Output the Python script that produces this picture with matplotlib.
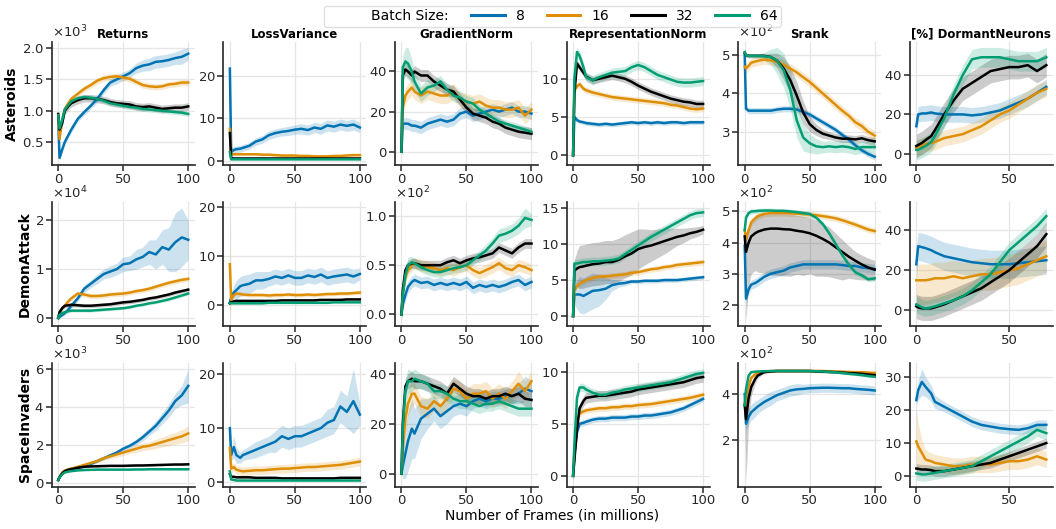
import numpy as np
import matplotlib
matplotlib.use("Agg")
import matplotlib.pyplot as plt
from matplotlib.lines import Line2D


# ================================================================
# DATA (display units)
# ================================================================

X = [0, 1, 3, 5, 8, 10, 15, 20, 25, 30, 35, 40, 45, 50, 55, 60, 65, 70, 75, 80, 85, 90, 95, 100]
XD = [0, 1, 3, 5, 8, 10, 15, 20, 25, 30, 35, 40, 45, 50, 55, 60, 65, 70]

GAMES = ["Asteroids", "DemonAttack", "SpaceInvaders"]
METRICS = ["Returns", "LossVariance", "GradientNorm", "RepresentationNorm", "Srank", "[%] DormantNeurons"]
BATCH_SIZES = [8, 16, 32, 64]
COLORS = {8: "#0173b2", 16: "#de8f05", 32: "black", 64: "#029e73"}

# scale factor between display units and raw values (game, metric)
SCALE = {
    ("Asteroids", "Returns"): 1e3,
    ("DemonAttack", "Returns"): 1e4,
    ("SpaceInvaders", "Returns"): 1e3,
    ("DemonAttack", "GradientNorm"): 1e2,
    ("Asteroids", "Srank"): 1e2,
    ("DemonAttack", "Srank"): 1e2,
    ("SpaceInvaders", "Srank"): 1e2,
}

# y tick labels shown in each panel (display units)
YTICKS = {
    "Asteroids": [[0.5, 1.0, 1.5, 2.0], [0, 10, 20], [0, 20, 40], [0, 5, 10], [3, 4, 5], [0, 20, 40]],
    "DemonAttack": [[0, 1, 2], [0, 10, 20], [0.0, 0.5, 1.0], [0, 5, 10, 15], [2, 3, 4, 5], [0, 20, 40]],
    "SpaceInvaders": [[0, 2, 4, 6], [0, 10, 20], [0, 20, 40], [0, 5, 10], [2, 4], [0, 10, 20, 30]],
}

# ---------------- Asteroids ----------------
ast_returns = {
    8: [0.85, 0.25, 0.38, 0.5, 0.62, 0.7, 0.87, 0.98, 1.08, 1.19, 1.33, 1.45, 1.5, 1.55, 1.6, 1.68, 1.72, 1.74, 1.78, 1.79, 1.81, 1.84, 1.86, 1.91],
    16: [0.9, 0.55, 0.85, 1.03, 1.13, 1.19, 1.27, 1.35, 1.41, 1.48, 1.52, 1.54, 1.55, 1.53, 1.51, 1.46, 1.41, 1.39, 1.38, 1.39, 1.42, 1.43, 1.45, 1.45],
    32: [0.95, 0.7, 0.8, 1.0, 1.08, 1.12, 1.17, 1.2, 1.2, 1.19, 1.17, 1.14, 1.12, 1.11, 1.1, 1.07, 1.06, 1.07, 1.05, 1.03, 1.04, 1.05, 1.05, 1.07],
    64: [0.93, 0.72, 0.85, 1.02, 1.1, 1.15, 1.2, 1.22, 1.21, 1.19, 1.16, 1.12, 1.1, 1.08, 1.06, 1.05, 1.03, 1.02, 1.01, 1.0, 0.99, 0.98, 0.97, 0.95],
}
ast_returns_band = {
    8: [0.03, 0.03, 0.04, 0.04, 0.04, 0.05, 0.05, 0.05, 0.05, 0.06, 0.06, 0.06, 0.07, 0.07, 0.07, 0.08, 0.09, 0.1, 0.1, 0.1, 0.1, 0.1, 0.12, 0.1],
    16: 0.05, 32: 0.06, 64: 0.04,
}

ast_lossvar = {
    8: [21.7, 2.0, 2.5, 2.7, 2.8, 3.0, 3.5, 4.5, 5.0, 6.0, 6.5, 6.8, 7.0, 7.3, 7.5, 7.2, 7.8, 7.5, 8.3, 8.0, 8.5, 8.2, 8.5, 7.8],
    16: [7.5, 1.5, 1.5, 1.5, 1.5, 1.5, 1.5, 1.5, 1.4, 1.4, 1.3, 1.2, 1.2, 1.2, 1.1, 1.1, 1.0, 1.0, 1.0, 1.1, 1.1, 1.2, 1.3, 1.3],
    32: [6.5, 0.6, 0.5, 0.5, 0.5, 0.5, 0.5, 0.5, 0.5, 0.5, 0.5, 0.5, 0.5, 0.5, 0.5, 0.5, 0.5, 0.5, 0.5, 0.5, 0.5, 0.5, 0.5, 0.5],
    64: [2.0, 0.3, 0.3, 0.3, 0.3, 0.3, 0.3, 0.3, 0.3, 0.3, 0.3, 0.3, 0.3, 0.3, 0.3, 0.3, 0.3, 0.3, 0.3, 0.3, 0.3, 0.3, 0.3, 0.3],
}
ast_lossvar_band = {
    8: [5.0, 1.0, 0.8, 0.8, 0.8, 0.8, 0.8, 0.9, 0.9, 1.0, 1.0, 1.0, 1.1, 1.1, 1.2, 1.2, 1.2, 1.3, 1.3, 1.3, 1.3, 1.3, 1.3, 1.2],
    16: 0.3, 32: 0.1, 64: 0.1,
}

ast_gradnorm = {
    8: [0, 14, 14, 14, 13, 13, 12, 14, 15, 16, 15, 16, 19, 20, 18, 19, 20, 21, 20, 21, 22, 20, 20, 19],
    16: [0, 22, 28, 30, 32, 30, 28, 30, 29, 28, 28, 30, 26, 25, 24, 25, 23, 22, 22, 21, 21, 22, 18, 21],
    32: [0, 38, 41, 40, 38, 40, 38, 38, 35, 33, 31, 30, 26, 22, 19, 18, 17, 15, 14, 12, 11, 10, 9.5, 9],
    64: [0, 42, 45, 44, 40, 35, 29, 32, 33, 35, 31, 28, 27, 25, 24, 21, 19, 17, 15, 14, 13, 12, 11, 10],
}
ast_gradnorm_band = {
    8: 3.0, 16: 4.0, 32: 3.0,
    64: [0, 6, 7, 8, 6, 5, 4, 4, 3, 3, 3, 3, 3, 3, 3, 2, 2, 2, 2, 2, 2, 2, 2, 2],
}

ast_repnorm = {
    8: [0, 5.0, 4.6, 4.4, 4.3, 4.2, 4.1, 4.0, 4.1, 4.0, 4.1, 4.2, 4.3, 4.2, 4.3, 4.2, 4.3, 4.2, 4.3, 4.3, 4.2, 4.3, 4.3, 4.3],
    16: [0, 8.5, 9.0, 9.3, 8.7, 8.5, 8.2, 8.0, 7.8, 7.6, 7.5, 7.4, 7.3, 7.2, 7.1, 7.0, 6.9, 6.8, 6.6, 6.5, 6.3, 6.1, 6.0, 6.1],
    32: [0, 8.0, 12.0, 11.5, 10.8, 10.3, 9.8, 10.0, 10.2, 10.4, 10.2, 10.0, 9.6, 9.1, 8.7, 8.3, 8.0, 7.7, 7.4, 7.2, 7.0, 6.9, 6.7, 6.7],
    64: [0, 10.0, 13.5, 13.0, 11.5, 10.2, 9.8, 10.2, 10.5, 10.8, 10.9, 11.0, 11.5, 11.8, 11.5, 11.0, 10.5, 10.2, 9.9, 9.6, 9.5, 9.5, 9.6, 9.7],
}
ast_repnorm_band = {8: 0.3, 16: 0.4, 32: 0.5, 64: 0.6}

ast_srank = {
    8: [5.0, 3.6, 3.55, 3.55, 3.55, 3.55, 3.55, 3.55, 3.58, 3.6, 3.6, 3.58, 3.52, 3.45, 3.35, 3.25, 3.15, 3.05, 2.92, 2.8, 2.65, 2.52, 2.42, 2.35],
    16: [4.7, 4.65, 4.72, 4.8, 4.83, 4.85, 4.88, 4.86, 4.82, 4.75, 4.65, 4.55, 4.42, 4.3, 4.15, 4.0, 3.85, 3.7, 3.55, 3.42, 3.25, 3.15, 3.0, 2.9],
    32: [5.05, 5.0, 4.98, 4.98, 4.98, 4.98, 4.98, 4.95, 4.85, 4.65, 4.35, 3.95, 3.5, 3.2, 3.05, 2.95, 2.9, 2.85, 2.82, 2.82, 2.8, 2.83, 2.78, 2.75],
    64: [5.08, 5.0, 4.98, 4.98, 4.98, 4.98, 4.97, 4.95, 4.85, 4.6, 4.1, 3.3, 2.85, 2.7, 2.62, 2.6, 2.62, 2.6, 2.62, 2.6, 2.55, 2.6, 2.6, 2.6],
}
ast_srank_band = {
    8: 0.08, 16: 0.12,
    32: [0.05, 0.05, 0.05, 0.05, 0.05, 0.05, 0.05, 0.1, 0.2, 0.3, 0.35, 0.35, 0.3, 0.2, 0.15, 0.12, 0.1, 0.1, 0.1, 0.1, 0.1, 0.1, 0.1, 0.1],
    64: [0.05, 0.05, 0.05, 0.05, 0.05, 0.05, 0.1, 0.2, 0.35, 0.45, 0.5, 0.45, 0.35, 0.25, 0.2, 0.15, 0.15, 0.15, 0.15, 0.15, 0.15, 0.15, 0.15, 0.15],
}

ast_dormant = {
    8: [14, 20, 20.5, 20.5, 21, 20.5, 20, 20, 20, 19.5, 20, 21, 22, 24, 26, 28, 31, 34],
    16: [3, 3.5, 4, 5, 5.5, 6, 8, 9, 10, 12, 14, 17, 20, 22, 25, 28, 31, 33],
    32: [4, 4.5, 5.5, 7, 9, 12, 20, 27, 33, 36, 39, 42, 43, 44, 44, 45, 42, 45],
    64: [2, 2, 3, 4, 6, 9, 18, 30, 40, 48, 49, 49, 49, 48, 47, 47, 47, 49],
}
ast_dormant_band = {8: 4.0, 16: 4.0, 32: 6.0, 64: 5.0}

# ---------------- DemonAttack ----------------
da_returns = {
    8: [0, 0.02, 0.06, 0.1, 0.18, 0.25, 0.4, 0.6, 0.7, 0.8, 0.9, 0.95, 1.0, 1.1, 1.12, 1.2, 1.25, 1.35, 1.3, 1.45, 1.4, 1.55, 1.65, 1.6],
    16: [0, 0.1, 0.2, 0.25, 0.35, 0.4, 0.5, 0.48, 0.45, 0.45, 0.46, 0.48, 0.49, 0.5, 0.52, 0.55, 0.57, 0.6, 0.64, 0.68, 0.72, 0.75, 0.78, 0.8],
    32: [0, 0.12, 0.2, 0.25, 0.26, 0.27, 0.26, 0.25, 0.25, 0.26, 0.27, 0.28, 0.3, 0.32, 0.33, 0.35, 0.37, 0.4, 0.42, 0.45, 0.48, 0.52, 0.55, 0.58],
    64: [0, 0.06, 0.1, 0.12, 0.14, 0.15, 0.15, 0.15, 0.15, 0.16, 0.17, 0.18, 0.19, 0.2, 0.22, 0.25, 0.27, 0.3, 0.32, 0.35, 0.38, 0.42, 0.46, 0.5],
}
da_returns_band = {
    8: [0, 0.02, 0.03, 0.05, 0.05, 0.05, 0.06, 0.08, 0.08, 0.1, 0.1, 0.12, 0.12, 0.15, 0.15, 0.2, 0.2, 0.25, 0.3, 0.35, 0.45, 0.6, 0.6, 0.4],
    16: 0.05, 32: 0.04, 64: 0.03,
}

da_lossvar = {
    8: [0.5, 1.5, 2.5, 3.0, 3.8, 4.0, 4.3, 5.0, 5.0, 5.3, 5.8, 5.5, 6.0, 5.5, 5.5, 6.0, 5.7, 6.2, 5.5, 5.8, 6.0, 6.2, 5.8, 6.3],
    16: [8.3, 1.0, 2.0, 2.3, 2.2, 2.1, 2.0, 2.0, 2.0, 1.9, 2.0, 2.0, 2.1, 2.0, 2.0, 2.1, 2.0, 2.1, 2.2, 2.2, 2.3, 2.3, 2.4, 2.5],
    32: [0.3, 0.5, 0.7, 0.8, 0.8, 0.8, 0.8, 0.8, 0.8, 0.8, 0.8, 0.9, 0.9, 0.9, 0.9, 0.9, 0.9, 1.0, 1.0, 1.0, 1.0, 1.1, 1.1, 1.1],
    64: [0.3, 0.3, 0.3, 0.3, 0.3, 0.3, 0.3, 0.3, 0.3, 0.4, 0.4, 0.4, 0.4, 0.4, 0.4, 0.4, 0.4, 0.4, 0.4, 0.5, 0.5, 0.5, 0.5, 0.5],
}
da_lossvar_band = {
    8: [0.3, 0.8, 1.5, 2.0, 2.0, 2.0, 2.0, 1.8, 1.8, 1.5, 1.5, 1.5, 1.5, 1.5, 1.5, 1.5, 1.5, 1.5, 1.5, 1.5, 1.5, 1.5, 1.5, 1.2],
    16: [11.5, 0.5, 0.5, 0.5, 0.5, 0.4, 0.4, 0.4, 0.4, 0.4, 0.4, 0.4, 0.4, 0.4, 0.4, 0.4, 0.4, 0.4, 0.4, 0.4, 0.4, 0.4, 0.4, 0.4],
    32: 0.2, 64: 0.1,
}

da_gradnorm = {
    8: [0, 0.1, 0.2, 0.28, 0.33, 0.35, 0.32, 0.33, 0.3, 0.32, 0.3, 0.32, 0.3, 0.33, 0.27, 0.3, 0.28, 0.3, 0.28, 0.3, 0.33, 0.35, 0.3, 0.33],
    16: [0, 0.2, 0.38, 0.45, 0.5, 0.52, 0.5, 0.48, 0.47, 0.45, 0.47, 0.45, 0.48, 0.5, 0.45, 0.42, 0.45, 0.48, 0.52, 0.47, 0.45, 0.5, 0.48, 0.45],
    32: [0, 0.25, 0.45, 0.5, 0.52, 0.52, 0.5, 0.5, 0.5, 0.5, 0.53, 0.55, 0.52, 0.55, 0.57, 0.58, 0.6, 0.62, 0.68, 0.65, 0.62, 0.68, 0.72, 0.72],
    64: [0, 0.2, 0.4, 0.5, 0.53, 0.52, 0.48, 0.45, 0.43, 0.43, 0.45, 0.47, 0.48, 0.5, 0.55, 0.6, 0.65, 0.72, 0.8, 0.82, 0.85, 0.9, 0.98, 0.96],
}
da_gradnorm_band = {8: 0.06, 16: 0.06, 32: 0.05, 64: [0, 0.05, 0.08, 0.08, 0.06, 0.05, 0.05, 0.05, 0.05, 0.05, 0.05, 0.05, 0.05, 0.05, 0.05, 0.05, 0.06, 0.06, 0.07, 0.07, 0.07, 0.08, 0.1, 0.06]}

da_repnorm = {
    8: [0, 3.0, 3.0, 3.0, 2.8, 3.0, 3.5, 3.6, 3.8, 4.3, 4.5, 4.6, 4.8, 4.8, 4.9, 4.9, 4.9, 5.0, 5.0, 5.0, 5.1, 5.2, 5.3, 5.4],
    16: [0, 3.5, 4.2, 4.5, 4.8, 5.0, 5.3, 5.5, 5.5, 5.6, 5.7, 5.8, 6.0, 6.1, 6.3, 6.5, 6.6, 6.8, 6.9, 7.1, 7.2, 7.3, 7.4, 7.5],
    32: [0, 6.3, 6.6, 6.8, 6.9, 7.0, 7.2, 7.3, 7.5, 7.5, 7.8, 8.3, 8.7, 9.3, 9.6, 9.8, 10.1, 10.4, 10.7, 11.0, 11.2, 11.5, 11.7, 12.0],
    64: [0, 7.3, 7.3, 7.4, 7.5, 7.5, 7.6, 7.6, 7.7, 7.8, 8.0, 8.6, 9.2, 9.8, 10.4, 11.0, 11.5, 12.0, 12.5, 13.0, 13.5, 14.0, 14.3, 14.4],
}
da_repnorm_band = {
    8: [0, 1.5, 2.0, 2.5, 2.5, 2.5, 2.5, 2.2, 1.5, 0.8, 0.5, 0.4, 0.3, 0.3, 0.3, 0.3, 0.3, 0.3, 0.3, 0.3, 0.3, 0.3, 0.3, 0.3],
    16: 0.4,
    32: [0, 1.5, 2.5, 3.0, 3.0, 3.0, 3.0, 3.0, 3.0, 3.0, 3.0, 3.0, 3.0, 2.8, 2.5, 2.2, 2.0, 1.8, 1.5, 1.2, 1.0, 0.8, 0.7, 0.6],
    64: 0.6,
}

da_srank = {
    8: [3.9, 2.2, 2.5, 2.65, 2.7, 2.75, 2.9, 3.0, 3.05, 3.1, 3.2, 3.25, 3.3, 3.3, 3.3, 3.3, 3.3, 3.3, 3.28, 3.25, 3.25, 3.2, 3.18, 3.15],
    16: [4.4, 4.1, 4.4, 4.65, 4.78, 4.85, 4.92, 4.95, 4.95, 4.95, 4.94, 4.93, 4.92, 4.9, 4.88, 4.85, 4.82, 4.78, 4.72, 4.65, 4.58, 4.5, 4.42, 4.37],
    32: [4.2, 3.7, 4.0, 4.2, 4.3, 4.35, 4.42, 4.45, 4.45, 4.43, 4.42, 4.38, 4.35, 4.3, 4.22, 4.12, 4.0, 3.85, 3.7, 3.55, 3.42, 3.3, 3.2, 3.13],
    64: [4.4, 4.8, 4.95, 5.0, 5.01, 5.02, 5.03, 5.03, 5.02, 5.02, 5.0, 4.98, 4.95, 4.92, 4.8, 4.6, 4.3, 3.95, 3.6, 3.3, 3.05, 2.95, 2.82, 2.85],
}
da_srank_band = {
    8: 0.15, 16: 0.1,
    32: ([0.3, 2.2, 1.4, 1.2, 1.2, 1.3, 1.4, 1.5, 1.5, 1.5, 1.5, 1.4, 1.4, 1.3, 1.3, 1.2, 1.1, 1.0, 0.9, 0.7, 0.6, 0.5, 0.4, 0.35],
         [0.3, 0.6, 0.5, 0.5, 0.5, 0.5, 0.5, 0.5, 0.5, 0.5, 0.5, 0.5, 0.5, 0.5, 0.5, 0.5, 0.5, 0.45, 0.4, 0.35, 0.3, 0.3, 0.3, 0.3]),
    64: 0.08,
}

da_dormant = {
    8: [23, 32, 31.5, 31, 30, 29, 27, 26, 25, 24, 23.5, 23, 23, 23, 23.5, 24, 24.5, 25],
    16: [15, 15, 15, 15, 15.5, 16, 16, 17, 16, 17, 18, 18, 19, 20, 21, 23, 25, 27],
    32: [2, 1.5, 1, 1, 1, 1.5, 3, 5, 7, 9, 11, 14, 17, 20, 24, 28, 32, 38],
    64: [3, 2.5, 1.5, 1, 1.5, 2, 3.5, 5, 7, 10, 14, 18, 24, 30, 34, 38, 42, 47],
}
da_dormant_band = {8: 7.0, 16: ([13, 13, 13, 12, 12, 12, 11, 10, 9, 8, 8, 8, 8, 8, 8, 8, 8, 8], 8.0), 32: 6.0, 64: 4.0}

# ---------------- SpaceInvaders ----------------
si_returns = {
    8: [0.15, 0.3, 0.5, 0.6, 0.7, 0.75, 0.8, 0.9, 1.0, 1.15, 1.3, 1.45, 1.6, 1.8, 1.95, 2.15, 2.4, 2.7, 3.0, 3.4, 3.8, 4.3, 4.6, 5.1],
    16: [0.15, 0.3, 0.55, 0.65, 0.72, 0.75, 0.85, 0.95, 1.05, 1.15, 1.3, 1.4, 1.5, 1.6, 1.7, 1.8, 1.9, 1.95, 2.05, 2.15, 2.25, 2.35, 2.45, 2.6],
    32: [0.15, 0.3, 0.5, 0.62, 0.7, 0.72, 0.8, 0.85, 0.87, 0.88, 0.89, 0.9, 0.9, 0.9, 0.91, 0.92, 0.92, 0.93, 0.94, 0.95, 0.96, 0.97, 0.97, 0.98],
    64: [0.15, 0.28, 0.45, 0.55, 0.6, 0.62, 0.66, 0.68, 0.69, 0.7, 0.7, 0.7, 0.7, 0.7, 0.7, 0.71, 0.71, 0.72, 0.72, 0.72, 0.72, 0.72, 0.72, 0.72],
}
si_returns_band = {
    8: [0.02, 0.03, 0.04, 0.05, 0.05, 0.05, 0.05, 0.06, 0.06, 0.08, 0.08, 0.1, 0.1, 0.12, 0.15, 0.15, 0.2, 0.2, 0.25, 0.3, 0.35, 0.4, 0.5, 0.9],
    16: [0.02, 0.03, 0.04, 0.05, 0.05, 0.05, 0.06, 0.08, 0.1, 0.1, 0.12, 0.12, 0.15, 0.15, 0.15, 0.2, 0.2, 0.2, 0.25, 0.25, 0.3, 0.3, 0.35, 0.4],
    32: 0.05, 64: 0.03,
}

si_lossvar = {
    8: [10, 5, 6.5, 5, 4.5, 5, 5.5, 6, 6.5, 7, 7.5, 8.5, 8, 8.5, 8.5, 9, 9.5, 10, 11, 11.5, 14, 13, 15, 12.5],
    16: [6.3, 2.5, 2.8, 2.3, 2.1, 2.0, 2.1, 2.2, 2.2, 2.3, 2.4, 2.5, 2.5, 2.6, 2.7, 2.8, 2.8, 2.9, 3.0, 3.1, 3.2, 3.4, 3.6, 3.8],
    32: [1.5, 1.0, 1.0, 0.9, 0.9, 0.9, 0.9, 0.8, 0.8, 0.8, 0.8, 0.7, 0.7, 0.7, 0.7, 0.7, 0.7, 0.7, 0.7, 0.7, 0.8, 0.8, 0.8, 0.8],
    64: [2.0, 0.5, 0.4, 0.3, 0.3, 0.3, 0.3, 0.3, 0.3, 0.3, 0.3, 0.3, 0.3, 0.3, 0.3, 0.3, 0.3, 0.3, 0.3, 0.3, 0.3, 0.3, 0.3, 0.3],
}
si_lossvar_band = {
    8: [5, 1, 2, 1.5, 1, 1, 1.2, 1.5, 1.5, 1.5, 2, 2, 2, 2, 2, 2, 2, 2, 2.5, 2.5, 3, 3, 6, 2],
    16: 0.8, 32: 0.2, 64: 0.1,
}

si_gradnorm = {
    8: [0, 3, 8, 13, 18, 16, 22, 24, 26, 23, 25, 27, 28, 27, 29, 30, 29, 30, 30, 31, 31, 32, 34, 33],
    16: [0, 10, 22, 28, 32, 32, 27, 26, 29, 27, 30, 34, 33, 30, 32, 32, 33, 30, 32, 30, 33, 36, 33, 37],
    32: [0, 20, 35, 37, 38, 37, 37, 36, 35, 34, 32, 36, 34, 32, 31, 31, 30, 31, 31, 32, 31, 32, 30, 29.5],
    64: [0, 18, 33, 37, 37, 38, 37, 36, 33, 33, 32, 30, 29, 29, 28, 27, 28, 28, 29, 28, 27, 26, 26, 26],
}
si_gradnorm_band = {
    8: [0, 5, 10, 12, 12, 10, 8, 6, 5, 5, 5, 4, 4, 4, 3, 3, 3, 3, 3, 3, 3, 4, 5, 4],
    16: [0, 5, 6, 5, 5, 4, 4, 4, 4, 4, 4, 4, 4, 4, 4, 4, 4, 4, 4, 4, 4, 5, 4, 4],
    32: 3.0, 64: [0, 4, 5, 5, 4, 4, 3, 3, 3, 3, 3, 3, 3, 3, 3, 3, 3, 3, 3, 3, 3, 3, 3, 3],
}

si_repnorm = {
    8: [0, 2.0, 4.2, 5.0, 5.1, 5.2, 5.4, 5.5, 5.5, 5.6, 5.6, 5.6, 5.7, 5.7, 5.8, 5.8, 5.9, 6.0, 6.1, 6.3, 6.5, 6.8, 7.1, 7.4],
    16: [0, 2.5, 5.3, 6.0, 6.2, 6.3, 6.4, 6.5, 6.5, 6.6, 6.6, 6.7, 6.7, 6.8, 6.85, 6.9, 7.0, 7.1, 7.2, 7.3, 7.4, 7.5, 7.65, 7.8],
    32: [0, 1.5, 4.5, 6.5, 7.2, 7.5, 7.6, 7.7, 7.7, 7.8, 7.9, 8.0, 8.1, 8.3, 8.4, 8.5, 8.6, 8.7, 8.8, 8.9, 9.0, 9.2, 9.4, 9.5],
    64: [0, 3.0, 7.5, 8.5, 8.5, 8.3, 8.0, 7.8, 7.8, 8.0, 8.1, 8.3, 8.4, 8.5, 8.6, 8.7, 8.8, 8.9, 9.0, 9.2, 9.4, 9.6, 9.8, 9.9],
}
si_repnorm_band = {8: 0.3, 16: 0.3, 32: 0.5, 64: 0.4}

si_srank = {
    8: [4.0, 2.7, 3.0, 3.2, 3.35, 3.45, 3.65, 3.8, 3.95, 4.05, 4.15, 4.2, 4.22, 4.25, 4.26, 4.27, 4.27, 4.26, 4.25, 4.25, 4.22, 4.2, 4.18, 4.15],
    16: [3.6, 3.3, 4.3, 4.7, 4.85, 4.9, 4.97, 4.99, 5.0, 5.0, 5.0, 5.0, 5.0, 5.0, 5.0, 5.0, 4.99, 4.98, 4.97, 4.96, 4.95, 4.95, 4.93, 4.92],
    32: [3.5, 2.9, 3.8, 4.3, 4.65, 4.8, 4.95, 4.98, 5.0, 5.0, 5.0, 5.0, 5.0, 5.0, 4.98, 4.97, 4.96, 4.95, 4.93, 4.91, 4.9, 4.88, 4.85, 4.82],
    64: [3.5, 4.2, 4.8, 4.95, 4.97, 4.98, 4.99, 5.0, 5.0, 5.0, 5.0, 5.0, 5.0, 4.99, 4.99, 4.98, 4.96, 4.94, 4.91, 4.88, 4.85, 4.82, 4.78, 4.75],
}
si_srank_band = {
    8: [0.2, 0.3, 0.35, 0.35, 0.35, 0.3, 0.3, 0.3, 0.25, 0.25, 0.25, 0.25, 0.2, 0.2, 0.2, 0.2, 0.2, 0.2, 0.2, 0.2, 0.2, 0.2, 0.2, 0.2],
    16: 0.05,
    32: ([0.3, 2.7, 1.0, 0.4, 0.2, 0.1, 0.05, 0.05, 0.05, 0.05, 0.05, 0.05, 0.05, 0.05, 0.05, 0.05, 0.05, 0.05, 0.05, 0.05, 0.05, 0.05, 0.05, 0.05], 0.1),
    64: 0.05,
}

si_dormant = {
    8: [23, 26, 28.5, 27, 25, 22.5, 21, 19.5, 18, 16.5, 15.5, 15, 14.5, 14.2, 14, 14.5, 15.5, 15.5],
    16: [10.5, 9, 7, 5, 4.5, 4, 3.5, 3, 3, 3.5, 3.5, 3.5, 4, 4.5, 4.5, 5, 6, 5],
    32: [2.3, 2.2, 2, 2, 1.8, 1.5, 1.5, 2, 2.5, 3, 3.5, 4, 5, 6, 7, 8, 9, 10],
    64: [0.8, 0.7, 0.5, 0.5, 0.8, 1, 1.5, 2, 2.5, 3, 4.5, 6, 7.5, 9, 10.5, 12, 14, 13],
}
si_dormant_band = {
    8: [1.5, 3, 4, 3, 2.5, 2, 1.5, 1.5, 1.5, 1.5, 1.5, 1.5, 1.5, 1.5, 1.5, 1.5, 1.5, 1.5],
    16: [10, 7, 4, 3, 2.5, 2.5, 2.5, 2.5, 2.5, 2.5, 2.5, 2.5, 2.5, 2.5, 2.5, 2.5, 2.5, 2.5],
    32: 1.5, 64: 2.0,
}

PANELS = {
    "Asteroids": [ast_returns, ast_lossvar, ast_gradnorm, ast_repnorm, ast_srank, ast_dormant],
    "DemonAttack": [da_returns, da_lossvar, da_gradnorm, da_repnorm, da_srank, da_dormant],
    "SpaceInvaders": [si_returns, si_lossvar, si_gradnorm, si_repnorm, si_srank, si_dormant],
}
BANDS = {
    "Asteroids": [ast_returns_band, ast_lossvar_band, ast_gradnorm_band, ast_repnorm_band, ast_srank_band, ast_dormant_band],
    "DemonAttack": [da_returns_band, da_lossvar_band, da_gradnorm_band, da_repnorm_band, da_srank_band, da_dormant_band],
    "SpaceInvaders": [si_returns_band, si_lossvar_band, si_gradnorm_band, si_repnorm_band, si_srank_band, si_dormant_band],
}


# ================================================================
# PLOT
# ================================================================

plt.rcParams["font.family"] = "DejaVu Sans"
plt.rcParams["axes.unicode_minus"] = False

fig, axes = plt.subplots(3, 6, figsize=(10.56, 5.29), dpi=100)
fig.subplots_adjust(left=0.049, right=0.997, top=0.921, bottom=0.08, wspace=0.2, hspace=0.30)

for r, game in enumerate(GAMES):
    for c, metric in enumerate(METRICS):
        ax = axes[r, c]
        scale = SCALE.get((game, metric), 1.0)
        xs = np.array(XD if c == 5 else X, dtype=float)

        for bs in BATCH_SIZES:
            y = np.array(PANELS[game][c][bs], dtype=float)
            band = BANDS[game][c][bs]
            if isinstance(band, tuple):
                lo, hi = np.array(band[0], dtype=float), np.array(band[1], dtype=float)
            else:
                lo = hi = np.array(band, dtype=float)
            ax.fill_between(xs, (y - lo) * scale, (y + hi) * scale,
                            color=COLORS[bs], alpha=0.2, linewidth=0)
            ax.plot(xs, y * scale, color=COLORS[bs], linewidth=1.8, label=str(bs))

        ax.grid(True, color="#e6e6e6", linewidth=0.9)
        ax.set_axisbelow(True)
        for side in ["top", "right"]:
            ax.spines[side].set_visible(False)
        for side in ["left", "bottom"]:
            ax.spines[side].set_linewidth(1.2)
            ax.spines[side].set_color("#262626")
        ax.tick_params(labelsize=9.5, length=4, width=1.1, pad=1.5, colors="#262626")
        ax.set_yticks([t * scale for t in YTICKS[game][c]])
        ax.ticklabel_format(axis="y", style="sci", scilimits=(-2, 2), useMathText=True)
        ax.yaxis.get_offset_text().set_fontsize(9.5)
        if c == 5:
            ax.set_xticks([0, 50])
        else:
            ax.set_xticks([0, 50, 100])

        if r == 0:
            ax.set_title(metric, fontsize=8.5, fontweight="bold", pad=3)
        if c == 0:
            ax.set_ylabel(game, fontsize=10, fontweight="bold", labelpad=2)

fig.text(0.523, 0.012, "Number of Frames (in millions)", ha="center", va="bottom", fontsize=10)

handles = [Line2D([], [], color="none")] + [Line2D([], [], color=COLORS[b], linewidth=2.2) for b in BATCH_SIZES]
labels = ["Batch Size:"] + [str(b) for b in BATCH_SIZES]
fig.legend(handles, labels, loc="upper center", bbox_to_anchor=(0.523, 1.002), ncol=5,
           fontsize=10, frameon=True, handlelength=2.4, columnspacing=1.6,
           borderpad=0.25, handletextpad=0.8, edgecolor="#d9d9d9")

plt.savefig("out.png", dpi=100)
